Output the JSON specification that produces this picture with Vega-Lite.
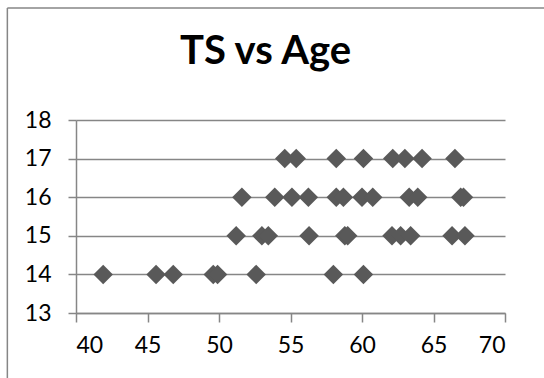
{
  "$schema": "https://vega.github.io/schema/vega-lite/v6.json",
  "width": 429,
  "height": 193,
  "autosize": {"type": "none"},
  "padding": {"left": 76, "top": 120, "right": 39, "bottom": 65},
  "background": "white",
  "title": {
    "text": "TS vs Age",
    "font": "Lato",
    "fontSize": 40,
    "fontWeight": "bold",
    "color": "black",
    "anchor": "middle",
    "baseline": "alphabetic",
    "dx": -25,
    "offset": -97
  },
  "config": {
    "view": {"stroke": null},
    "axis": {
      "labelFont": "Lato",
      "labelFontSize": 23,
      "labelColor": "black",
      "labelOverlap": false,
      "domainColor": "#868686",
      "tickColor": "#868686",
      "gridColor": "#868686",
      "domainWidth": 1.5,
      "tickWidth": 1.5,
      "gridWidth": 1.5,
      "title": null
    }
  },
  "layer": [
    {
      "data": {"values": [
        {"Age": 41.9, "TS": 14}, {"Age": 45.6, "TS": 14}, {"Age": 46.8, "TS": 14}, {"Age": 49.6, "TS": 14},
        {"Age": 49.9, "TS": 14}, {"Age": 52.6, "TS": 14}, {"Age": 58.0, "TS": 14}, {"Age": 60.1, "TS": 14},
        {"Age": 51.2, "TS": 15}, {"Age": 53.0, "TS": 15}, {"Age": 53.45, "TS": 15}, {"Age": 56.3, "TS": 15},
        {"Age": 58.8, "TS": 15}, {"Age": 59.0, "TS": 15}, {"Age": 62.1, "TS": 15}, {"Age": 62.7, "TS": 15},
        {"Age": 63.4, "TS": 15}, {"Age": 66.3, "TS": 15}, {"Age": 67.2, "TS": 15},
        {"Age": 51.6, "TS": 16}, {"Age": 53.9, "TS": 16}, {"Age": 55.1, "TS": 16}, {"Age": 56.25, "TS": 16},
        {"Age": 58.2, "TS": 16}, {"Age": 58.7, "TS": 16}, {"Age": 60.0, "TS": 16}, {"Age": 60.75, "TS": 16},
        {"Age": 63.3, "TS": 16}, {"Age": 63.9, "TS": 16}, {"Age": 66.9, "TS": 16}, {"Age": 67.1, "TS": 16},
        {"Age": 54.6, "TS": 17}, {"Age": 55.4, "TS": 17}, {"Age": 58.2, "TS": 17}, {"Age": 60.1, "TS": 17},
        {"Age": 62.15, "TS": 17}, {"Age": 63.0, "TS": 17}, {"Age": 64.2, "TS": 17}, {"Age": 66.5, "TS": 17}
      ]},
      "mark": {"type": "point", "shape": "diamond", "filled": true, "size": 380, "color": "#595959", "opacity": 1},
      "encoding": {
        "x": {
          "field": "Age", "type": "quantitative",
          "scale": {"domain": [40, 70], "nice": false, "zero": false},
          "axis": {"values": [40, 45, 50, 55, 60, 65, 70], "grid": false, "tickSize": 9, "labelPadding": 12}
        },
        "y": {
          "field": "TS", "type": "quantitative",
          "scale": {"domain": [13, 18], "nice": false, "zero": false},
          "axis": {"values": [13, 14, 15, 16, 17, 18], "grid": true, "tickSize": 8, "labelPadding": 17}
        }
      }
    },
    {
      "data": {"values": [
        {"fx": 35.2, "fx2": 73, "fy": 20.9, "fy2": 20.9},
        {"fx": 35.2, "fx2": 35.2, "fy": 20.9, "fy2": 11}
      ]},
      "mark": {"type": "rule", "clip": false, "color": "#868686", "strokeWidth": 1.5},
      "encoding": {
        "x": {"field": "fx", "type": "quantitative",
          "axis": {"values": [40, 45, 50, 55, 60, 65, 70], "grid": false, "tickSize": 9, "labelPadding": 12}},
        "x2": {"field": "fx2"},
        "y": {"field": "fy", "type": "quantitative",
          "axis": {"values": [13, 14, 15, 16, 17, 18], "grid": true, "tickSize": 8, "labelPadding": 17}},
        "y2": {"field": "fy2"}
      }
    }
  ]
}
